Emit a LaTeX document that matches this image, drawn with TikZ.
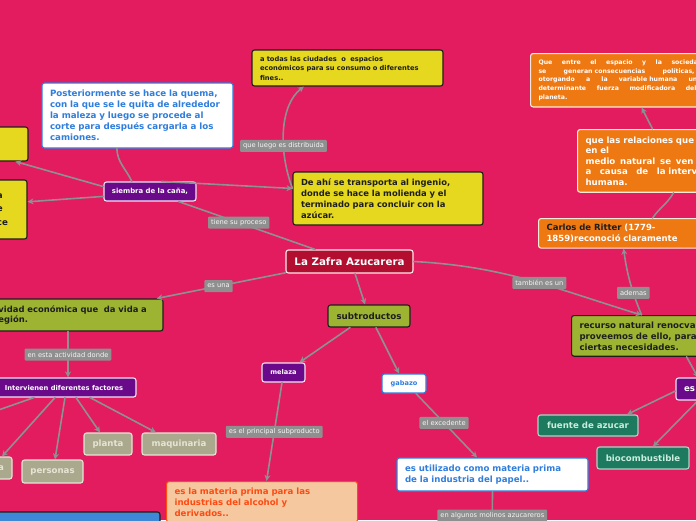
\documentclass[tikz,border=0pt]{standalone}
\usepackage{fontspec}
\setmainfont{DejaVu Sans}
\usepackage{xcolor}
\usetikzlibrary{arrows.meta,positioning,calc}
\definecolor{bgpink}{HTML}{E31B5F}
\definecolor{rootred}{HTML}{B30D2F}
\definecolor{yelfill}{HTML}{E6D81E}
\definecolor{grnfill}{HTML}{9DB433}
\definecolor{purfill}{HTML}{6A0A8B}
\definecolor{orgfill}{HTML}{EE7812}
\definecolor{tealfill}{HTML}{1D7A5F}
\definecolor{tealtext}{HTML}{C9EEDF}
\definecolor{beigefill}{HTML}{ABA98D}
\definecolor{beigetext}{HTML}{E6E4D4}
\definecolor{bluetxt}{HTML}{2F7EDD}
\definecolor{peachfill}{HTML}{F5C8A0}
\definecolor{peachtxt}{HTML}{FF4A12}
\definecolor{bluefill}{HTML}{3F87D7}
\definecolor{boxink}{HTML}{1E1E1E}
\definecolor{linkgray}{HTML}{8C9292}
\definecolor{lblgray}{HTML}{8F8F8F}
\newcommand{\fsz}[2]{\fontsize{#1}{#2}\selectfont}
% a justified line of fixed width: words separated by \hfill
\newcommand{\jline}[2]{\leavevmode\hbox to #1{#2}}
\tikzset{
  >={Stealth[length=6pt,width=6pt]},
  mapbox/.style={rounded corners=2.5pt, line width=1.1pt, inner sep=0pt},
  rootbox/.style={mapbox, fill=rootred, draw=white!92!rootred, text=white},
  yelbox/.style={mapbox, fill=yelfill, draw=boxink, text=boxink},
  grnbox/.style={mapbox, fill=grnfill, draw=boxink, text=boxink},
  orgbox/.style={mapbox, fill=orgfill, draw=white!85!orgfill, text=white},
  purbox/.style={mapbox, fill=purfill, draw=white!90!purfill, text=white},
  whtbox/.style={mapbox, fill=white, draw=bluetxt, text=bluetxt},
  tealbox/.style={mapbox, fill=tealfill, draw=tealtext!80!tealfill, text=tealtext},
  beigebox/.style={mapbox, fill=beigefill, draw=beigetext, text=beigetext},
  peachbox/.style={mapbox, fill=peachfill, draw=peachtxt, text=peachtxt},
  bluebox/.style={mapbox, fill=bluefill, draw=boxink},
  link/.style={draw=linkgray, line width=1.6pt},
  lbl/.style={fill=lblgray, text=white!92!lblgray, font=\fsz{6.7}{8},
              inner xsep=3pt, inner ysep=0pt, minimum height=12pt, rounded corners=1pt},
}

\begin{document}
\begin{tikzpicture}[x=1pt, y=-1pt, line cap=round, line join=round]
\useasboundingbox (0,0) rectangle (696,520);
\clip (0,0) rectangle (696,520);
\fill[bgpink] (0,0) rectangle (696,520);

% ---------- centre and the process branch ----------
\node[rootbox, minimum width=127pt, minimum height=23pt, font=\bfseries\fsz{10.3}{12}]
  (zafra) at (349.5,261.5) {La Zafra Azucarera};
\node[purbox, minimum width=92pt, minimum height=19pt, font=\bfseries\fsz{6.9}{8}]
  (siembra) at (150,191.5) {siembra de la caña,};
\node[whtbox, minimum width=191pt, minimum height=65pt, text width=175pt, align=left,
      font=\bfseries\fsz{8.7}{11}] (quema) at (137.5,115.5)
  {Posteriormente se hace la quema,\\con la que se le quita de alrededor\\la maleza y luego se procede al\\corte para después cargarla a los\\camiones.};
\node[yelbox, minimum width=191pt, minimum height=36pt, text width=175pt, align=left,
      font=\bfseries\fsz{6.7}{9.5}] (ciudades) at (347.5,68)
  {a todas las ciudades\ \ o\ \ espacios\\económicos para su consumo o diferentes\\fines..};
\node[yelbox, minimum width=190pt, minimum height=53pt, text width=174pt, align=left,
      font=\bfseries\fsz{8.4}{10.8}] (ingenio) at (388,198.5)
  {De ahí se transporta al ingenio,\\donde se hace la molienda y el\\terminado para concluir con la\\azúcar.};
\node[yelbox, minimum width=38pt, minimum height=34pt] (izqA) at (9,144) {};
\node[yelbox, minimum width=37pt, minimum height=59pt, text width=23pt, align=left,
      font=\bfseries\fsz{8.7}{13.5}] (izqB) at (8.5,209.5) {a\\e\\ce};

% ---------- economic activity ----------
\node[grnbox, minimum width=183pt, minimum height=32pt, text width=156pt, align=left,
      font=\bfseries\fsz{8.4}{10}] (activ) at (71.5,315)
  {\hspace*{5pt}vidad económica que\ \ da vida a\\\hspace*{5pt}egión.};
\node[purbox, minimum width=144pt, minimum height=19pt, font=\bfseries\fsz{6.7}{8}]
  (interv) at (64,387.5) {Intervienen diferentes factores};
\node[beigebox, minimum width=48pt, minimum height=22pt, font=\bfseries\fsz{8.6}{10}]
  (planta) at (108,444) {planta};
\node[beigebox, minimum width=74pt, minimum height=22pt, font=\bfseries\fsz{8.6}{10}]
  (maquinaria) at (179,444) {maquinaria};
\node[beigebox, minimum width=61pt, minimum height=23pt, font=\bfseries\fsz{8.6}{10}]
  (personas) at (52.5,471.5) {personas};
\node[beigebox, minimum width=52pt, minimum height=22pt, text width=36pt, align=right,
      font=\bfseries\fsz{8.6}{10}] (abox) at (-14,468) {a};
\node[bluebox, minimum width=170pt, minimum height=28pt] (azul) at (75,526) {};
\coordinate (fueraIzq) at (-30,420);

% ---------- by-products ----------
\node[grnbox, minimum width=82pt, minimum height=22pt, font=\bfseries\fsz{8.7}{10}]
  (subtr) at (369,316) {subtroductos};
\node[purbox, minimum width=43pt, minimum height=19pt, font=\bfseries\fsz{6.6}{8}]
  (melaza) at (283.5,372.5) {melaza};
\node[whtbox, minimum width=44pt, minimum height=19pt, font=\bfseries\fsz{6.6}{8}]
  (gabazo) at (404,383.5) {gabazo};
\node[peachbox, anchor=north west, inner xsep=8pt, inner ysep=6pt, text width=175pt,
      align=left, font=\bfseries\fsz{8.6}{11}] (alcohol) at (166,481)
  {es la materia prima para las\\industrias del alcohol y\\derivados..\\[4pt]};
\node[whtbox, minimum width=191pt, minimum height=33pt, text width=175pt, align=left,
      font=\bfseries\fsz{8.6}{11.5}] (papel) at (492.5,474.5)
  {es utilizado como materia prima\\de la industria del papel..};
\coordinate (fueraAbajo) at (492,560);

% ---------- renewable resource ----------
\node[orgbox, anchor=north west, inner xsep=8pt, inner ysep=6.5pt, text width=174pt,
      align=left, font=\bfseries\fsz{6.2}{8.6}] (sociedad) at (530,53)
  {\jline{164pt}{Que\hfill entre\hfill el\hfill espacio\hfill y\hfill la\hfill sociedad}\\
   \jline{156pt}{se\hfill generan consecuencias\hfill políticas,}\\
   \jline{163pt}{otorgando\hfill a\hfill la\hfill variable humana\hfill una}\\
   \jline{158pt}{determinante\hfill fuerza\hfill modificadora\hfill del}\\
   planeta.};
\node[orgbox, anchor=north west, inner xsep=8pt, inner ysep=7pt, text width=180pt,
      align=left, font=\bfseries\fsz{8.6}{10.5}] (relaciones) at (577,129)
  {que las relaciones que se\\en el\\\jline{108pt}{medio\hfill natural\hfill se\hfill ven}\\
   \jline{80pt}{a\hfill causa\hfill de\hfill la} intervención\\humana.};
\node[orgbox, anchor=north west, inner xsep=8pt, inner ysep=5.5pt, text width=166pt,
      align=left, font=\bfseries\fsz{8.5}{11}] (ritter) at (538,218)
  {\textcolor{boxink}{Carlos de Ritter} (1779-\\1859)reconoció claramente};
\node[grnbox, anchor=north west, inner xsep=8pt, inner ysep=6pt, text width=180pt,
      align=left, font=\bfseries\fsz{8.6}{11}] (recurso) at (571,315)
  {recurso natural renocvable\\proveemos de ello, para\\ciertas necesidades.};
\node[purbox, minimum width=44pt, minimum height=22pt, text width=28pt, align=left,
      font=\bfseries\fsz{8.6}{10}] (esnodo) at (698,389) {es};
\node[tealbox, minimum width=100pt, minimum height=21pt, font=\bfseries\fsz{8.6}{10}]
  (fuente) at (588,425.5) {fuente de azucar};
\node[tealbox, minimum width=92pt, minimum height=22pt, font=\bfseries\fsz{8.6}{10}]
  (biocomb) at (643,458) {biocombustible};

% ---------- connectors ----------
\draw[link] (zafra) -- node[lbl, pos=.56] (lblproceso) {tiene su proceso} (siembra);
\draw[link] (siembra.151) to[out=115, in=-88] (quema.-122);
\draw[link,->] (siembra.174) -- (izqA.-70);
\draw[link,->] (siembra.186) -- (izqB.22);
\draw[link,->] (siembra.41) -- (ingenio.174);
\draw[link,->] (ingenio.174) .. controls (278,150) and (280,105) ..
  node[lbl, pos=.36] (lbldistr) {que luego es distribuida} (ciudades.-157);

\draw[link,->] (zafra.190) -- node[lbl, pos=.52] (lblesuna) {es una} (activ.11);
\draw[link,->] ([xshift=-3.5pt]activ.south) -- node[lbl] (lbldonde) {en esta actividad donde}
  ([xshift=4pt]interv.north);
\draw[link,->] ([xshift=-30pt]interv.south) -- (fueraIzq);
\draw[link,->] ([xshift=-9pt]interv.south) -- ([xshift=16pt]abox.north);
\draw[link,->] ([xshift=1pt]interv.south) -- ([xshift=2.5pt]personas.north);
\draw[link,->] ([xshift=12pt]interv.south) -- ([xshift=-8pt]planta.north);
\draw[link,->] ([xshift=26pt]interv.south) -- ([xshift=-23pt]maquinaria.north);

\draw[link,->] ([xshift=5.5pt]zafra.south) -- ([xshift=-4pt]subtr.north);
\draw[link,->] ([xshift=-19pt]subtr.south) -- ([xshift=16pt]melaza.north);
\draw[link,->] ([xshift=7pt]subtr.south) -- ([xshift=-5pt]gabazo.north);
\draw[link,->] ([xshift=-1.5pt]melaza.south) -- node[lbl, pos=.5] (lblsubprod)
  {es el principal subproducto} ([xshift=4.5pt]alcohol.north);
\draw[link,->] ([xshift=12pt]gabazo.south) -- node[lbl, pos=.46] (lblexced)
  {el excedente} ([xshift=-15.5pt]papel.north);
\draw[link,->] (papel.south) -- node[lbl, pos=.35] (lblmolinos)
  {en algunos molinos azucareros} (fueraAbajo);

\draw[link,->] (zafra.east) to[out=-3, in=163] node[lbl, pos=.55] (lbltambien)
  {también es un} ([xshift=-28pt]recurso.north);
\draw[link,->] ([xshift=-28pt]recurso.north) to[out=112, in=-82] node[lbl, pos=.33] (lblademas)
  {ademas} ([xshift=-6pt]ritter.south);
\draw[link] ([xshift=23pt]ritter.north) to[out=55, in=-120] ([xshift=-2pt]relaciones.south);
\draw[link,->] ([xshift=-23pt]relaciones.north) -- ([xshift=16pt]sociedad.south);
\draw[link,->] ([xshift=17pt]recurso.south) -- (esnodo.north);
\draw[link,->] ([yshift=-2pt]esnodo.west) -- ([xshift=39pt]fuente.north);
\draw[link,->] (esnodo.south) -- ([xshift=10pt]biocomb.north);

\end{tikzpicture}
\end{document}
